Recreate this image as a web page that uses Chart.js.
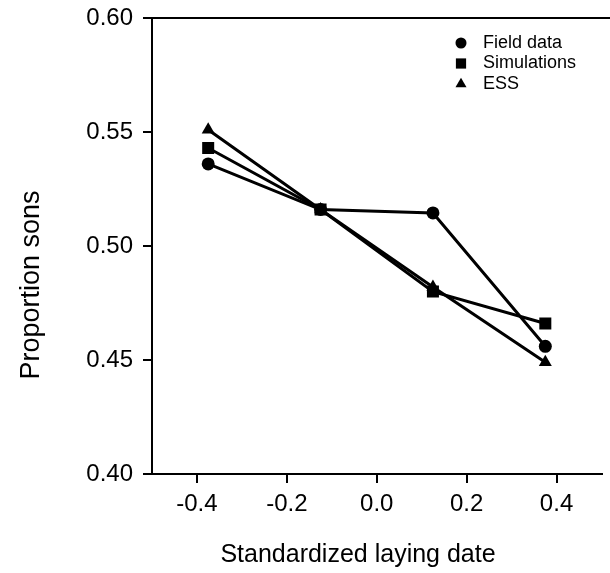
<!DOCTYPE html>
<html>
<head>
<meta charset="utf-8">
<script src="https://cdn.jsdelivr.net/npm/chart.js@4.4.1/dist/chart.umd.min.js"></script>
<style>
  html, body { margin: 0; padding: 0; background: #fff; }
  #wrap { width: 610px; height: 573px; position: relative; }
</style>
</head>
<body>
<div id="wrap"><canvas id="sexRatioChart"></canvas></div>
<script>
// Dados
const layingDates = [-0.375, -0.125, 0.125, 0.375];
const fieldData   = [0.536, 0.516, 0.5145, 0.456];
const simulations = [0.543, 0.516, 0.480, 0.466];
const essValues   = [0.551, 0.516, 0.482, 0.449];
const xTicks = [-0.4, -0.2, 0.0, 0.2, 0.4];
const yTicks = [0.40, 0.45, 0.50, 0.55, 0.60];
const xTitle = 'Standardized laying date';
const yTitle = 'Proportion sons';

const FONT = '"Liberation Sans", Arial, Helvetica, sans-serif';

function toPoints(values) {
    return layingDates.map((x, i) => ({ x: x, y: values[i] }));
}

function makeDataset(label, values, style, radius) {
    return {
        label: label,
        data: toPoints(values),
        borderColor: '#000',
        backgroundColor: '#000',
        borderWidth: 3,
        pointStyle: style,
        pointRadius: radius,
        pointBorderWidth: 0,
        pointBackgroundColor: '#000',
        showLine: true,
        tension: 0
    };
}

// Linha superior do quadro, títulos dos eixos e legenda dentro do gráfico
const framePlugin = {
    id: 'frame',
    afterDraw(chart) {
        const ctx = chart.ctx;
        const a = chart.chartArea;
        ctx.save();
        ctx.strokeStyle = '#000';
        ctx.lineWidth = 2;
        ctx.beginPath();
        ctx.moveTo(a.left, a.top);
        ctx.lineTo(chart.width, a.top);
        ctx.stroke();

        // títulos dos eixos
        ctx.fillStyle = '#000';
        ctx.font = '25px ' + FONT;
        ctx.textAlign = 'center';
        ctx.textBaseline = 'alphabetic';
        ctx.fillText(xTitle, 358, 562);
        ctx.save();
        ctx.translate(39, 285);
        ctx.rotate(-Math.PI / 2);
        ctx.font = '27px ' + FONT;
        ctx.fillText(yTitle, 0, 0);
        ctx.restore();

        // legenda
        const items = chart.data.datasets;
        const markX = 461, textX = 483;
        let y = 43;
        ctx.font = '18px ' + FONT;
        ctx.textAlign = 'left';
        ctx.textBaseline = 'middle';
        items.forEach(ds => {
            ctx.fillStyle = '#000';
            ctx.strokeStyle = '#000';
            Chart.helpers.drawPoint(ctx, { pointStyle: ds.pointStyle, radius: ds.pointRadius * 0.85, borderWidth: 0 }, markX, y);
            ctx.fillStyle = '#000';
            ctx.fillText(ds.label, textX, y);
            y += 20.5;
        });
        ctx.restore();
    }
};

function createSexRatioChart() {
    const canvas = document.getElementById('sexRatioChart');
    const ctx = canvas.getContext('2d');

    window.sexRatioChart = new Chart(ctx, {
        type: 'scatter',
        data: {
            datasets: [
                makeDataset('Field data', fieldData, 'circle', 6.5),
                makeDataset('Simulations', simulations, 'rect', 8.5),
                makeDataset('ESS', essValues, 'triangle', 7.5)
            ]
        },
        options: {
            responsive: true,
            maintainAspectRatio: false,
            animation: false,
            layout: { padding: { top: 18, right: 0, left: 0, bottom: 0 } },
            plugins: {
                legend: { display: false },
                tooltip: { enabled: false }
            },
            scales: {
                x: {
                    type: 'linear',
                    min: -0.5,
                    max: 0.5,
                    afterBuildTicks: (scale) => { scale.ticks = xTicks.map(v => ({ value: v })); },
                    afterFit: (scale) => { scale.height = 99; scale.paddingLeft = 0; scale.paddingRight = 0; },
                    grid: { display: true, drawOnChartArea: false, drawTicks: true, tickLength: 9, color: '#000', lineWidth: 2 },
                    border: { display: true, color: '#000', width: 2 },
                    ticks: {
                        color: '#000',
                        font: { family: FONT, size: 24 },
                        padding: 7,
                        callback: (v) => Number(v).toFixed(1)
                    }
                },
                y: {
                    type: 'linear',
                    min: 0.40,
                    max: 0.60,
                    afterBuildTicks: (scale) => { scale.ticks = yTicks.map(v => ({ value: v })); },
                    afterFit: (scale) => { scale.width = 152; scale.paddingTop = 0; scale.paddingBottom = 0; },
                    grid: { display: true, drawOnChartArea: false, drawTicks: true, tickLength: 9, color: '#000', lineWidth: 2 },
                    border: { display: true, color: '#000', width: 2 },
                    ticks: {
                        color: '#000',
                        font: { family: FONT, size: 24 },
                        padding: 10,
                        callback: (v) => Number(v).toFixed(2)
                    }
                }
            }
        },
        plugins: [framePlugin]
    });
}

document.addEventListener('DOMContentLoaded', function() {
    createSexRatioChart();
});
</script>
</body>
</html>
